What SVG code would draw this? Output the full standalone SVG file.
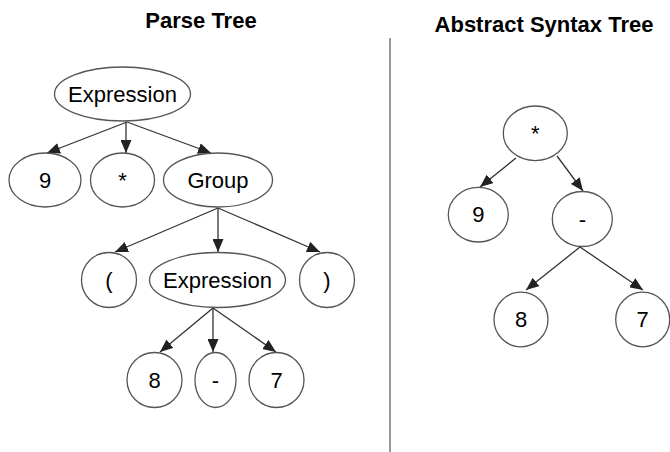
<svg xmlns="http://www.w3.org/2000/svg" width="670" height="452" viewBox="0 0 670 452">
<style>
.n ellipse{fill:#fff;stroke:#555;stroke-width:1.3}
.n text{font-family:"Liberation Sans",Arial,sans-serif;font-size:22px;fill:#000;text-anchor:middle;dominant-baseline:central}
.t{font-family:"Liberation Sans",Arial,sans-serif;font-size:22px;font-weight:bold;fill:#000;text-anchor:middle}
#edges line{stroke:#333;stroke-width:1.3;marker-end:url(#ah)}
</style>
<defs>
<marker id="ah" markerUnits="userSpaceOnUse" markerWidth="13" markerHeight="11" refX="13" refY="5.5" orient="auto">
<path d="M0,0 L13,5.5 L0,11 z" fill="#222"/>
</marker>
</defs>
<rect width="670" height="452" fill="#fff"/>
<text class="t" x="201" y="28">Parse Tree</text>
<text class="t" x="544" y="32">Abstract Syntax Tree</text>
<line x1="390" y1="38" x2="390" y2="452" stroke="#999" stroke-width="2"/>
<g id="edges">
<line x1="127" y1="122" x2="47" y2="153"/>
<line x1="126" y1="122" x2="126" y2="153"/>
<line x1="127" y1="122" x2="211" y2="153"/>
<line x1="218" y1="208" x2="115" y2="252"/>
<line x1="218" y1="208" x2="218" y2="252"/>
<line x1="218" y1="208" x2="320" y2="252"/>
<line x1="213" y1="308" x2="160" y2="352"/>
<line x1="213" y1="308" x2="213" y2="352"/>
<line x1="213" y1="308" x2="276" y2="352"/>
<line x1="516" y1="158" x2="480" y2="187"/>
<line x1="557" y1="156" x2="583" y2="191"/>
<line x1="580" y1="247" x2="526" y2="290"/>
<line x1="580" y1="247" x2="643" y2="290"/>
</g>
<g id="p_expr" class="n"><ellipse cx="122.5" cy="94" rx="68" ry="27"/><text x="122.5" y="94">Expression</text></g>
<g id="p_9" class="n"><ellipse cx="45" cy="180" rx="36" ry="27"/><text x="45" y="180">9</text></g>
<g id="p_star" class="n"><ellipse cx="122.5" cy="180" rx="32" ry="27"/><text x="122.5" y="180">*</text></g>
<g id="p_group" class="n"><ellipse cx="218" cy="180" rx="54.5" ry="27"/><text x="218" y="180">Group</text></g>
<g id="p_lp" class="n"><ellipse cx="109" cy="280" rx="27.5" ry="27.5"/><text x="109" y="280">(</text></g>
<g id="p_expr2" class="n"><ellipse cx="217.5" cy="280" rx="68" ry="27.5"/><text x="217.5" y="280">Expression</text></g>
<g id="p_rp" class="n"><ellipse cx="327" cy="280" rx="27.5" ry="27.5"/><text x="327" y="280">)</text></g>
<g id="p_8" class="n"><ellipse cx="154.5" cy="380" rx="27.5" ry="27.5"/><text x="154.5" y="380">8</text></g>
<g id="p_minus" class="n"><ellipse cx="215.5" cy="380" rx="20.5" ry="27.5"/><text x="215.5" y="380">-</text></g>
<g id="p_7" class="n"><ellipse cx="276.5" cy="380" rx="27.5" ry="27.5"/><text x="276.5" y="380">7</text></g>
<g id="a_star" class="n"><ellipse cx="535.3" cy="133.3" rx="32" ry="27.3"/><text x="535.3" y="133.3">*</text></g>
<g id="a_9" class="n"><ellipse cx="478.3" cy="214.7" rx="30" ry="27.3"/><text x="478.3" y="214.7">9</text></g>
<g id="a_minus" class="n"><ellipse cx="582.3" cy="219" rx="30" ry="27.5"/><text x="582.3" y="219">-</text></g>
<g id="a_8" class="n"><ellipse cx="521" cy="319.5" rx="27" ry="27.3"/><text x="521" y="319.5">8</text></g>
<g id="a_7" class="n"><ellipse cx="642.7" cy="319.5" rx="27" ry="27.3"/><text x="642.7" y="319.5">7</text></g>
</svg>
